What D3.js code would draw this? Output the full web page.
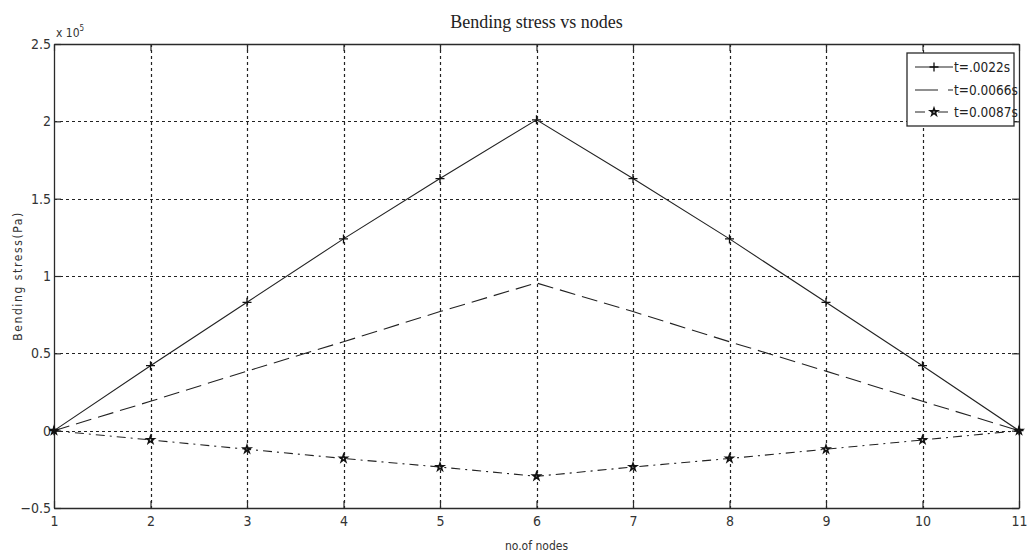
<!DOCTYPE html>
<html>
<head>
<meta charset="utf-8">
<script src="https://cdn.jsdelivr.net/npm/d3@7"></script>
<style>
  html, body { margin: 0; padding: 0; background: #fff; }
  svg { display: block; }
</style>
</head>
<body>
<svg id="chart" width="1028" height="554"></svg>
<script>
// Node numbers along the beam
const nodes = [1, 2, 3, 4, 5, 6, 7, 8, 9, 10, 11];
// Bending stress (Pa) at each node for three time instants
const stressT0022 = [0, 42000, 83000, 124000, 163000, 201000, 163000, 124000, 83000, 42000, 0];
const stressT0066 = [0, 19000, 38500, 57500, 77000, 95500, 77000, 57500, 38500, 19000, 0];
const stressT0087 = [0, -6000, -12000, -18000, -23500, -29500, -23500, -18000, -12000, -6000, 0];
const seriesNames = ["t=.0022s", "t=0.0066s", "t=0.0087s"];
const yTicks = [-50000, 0, 50000, 100000, 150000, 200000, 250000];

const W = 1028, H = 554;
const m = { left: 54, right: 9, top: 44, bottom: 46 };
const svg = d3.select("#chart");
const narrow = '"Liberation Sans Narrow", "DejaVu Sans Condensed", "Liberation Sans", sans-serif';

const x = d3.scaleLinear().domain([1, 11]).range([m.left, W - m.right]);
const y = d3.scaleLinear().domain([-50000, 250000]).range([H - m.bottom, m.top]);

const ink = "#2a2a2a";

// grid
const grid = svg.append("g").attr("stroke", "#222").attr("stroke-width", 1.2)
  .attr("stroke-dasharray", "3,3");
grid.selectAll("line.v").data(nodes.slice(1, -1)).join("line")
  .attr("x1", d => Math.round(x(d)) + 0.5).attr("x2", d => Math.round(x(d)) + 0.5)
  .attr("y1", y(250000)).attr("y2", y(-50000));
grid.selectAll("line.h").data(yTicks.slice(1, -1)).join("line")
  .attr("y1", d => Math.round(y(d)) + 0.5).attr("y2", d => Math.round(y(d)) + 0.5)
  .attr("x1", x(1)).attr("x2", x(11));

// axes (inward ticks on all four sides, boxed plot)
const tickLen = 7;
const axB = d3.axisBottom(x).tickValues(nodes).tickSize(tickLen).tickSizeOuter(0).tickFormat(d3.format("d"));
const axL = d3.axisLeft(y).tickValues(yTicks).tickSize(tickLen).tickSizeOuter(0)
  .tickFormat(d => d3.format("~g")(d / 1e5));

const gB = svg.append("g").attr("transform", `translate(0,${y(-50000)})`).call(axB);
gB.selectAll(".tick line").attr("y2", -tickLen);
gB.selectAll(".tick text").attr("y", 8).attr("dy", "0.71em");
const gT = svg.append("g").attr("transform", `translate(0,${y(250000)})`)
  .call(d3.axisTop(x).tickValues(nodes).tickSize(tickLen).tickSizeOuter(0).tickFormat(""));
gT.selectAll(".tick line").attr("y2", tickLen);
const gL = svg.append("g").attr("transform", `translate(${x(1)},0)`).call(axL);
gL.selectAll(".tick line").attr("x2", tickLen);
gL.selectAll(".tick text").attr("x", -3);
const gR = svg.append("g").attr("transform", `translate(${x(11)},0)`)
  .call(d3.axisRight(y).tickValues(yTicks).tickSize(tickLen).tickSizeOuter(0).tickFormat(""));
gR.selectAll(".tick line").attr("x2", -tickLen);

[gB, gT, gL, gR].forEach(g => {
  g.select(".domain").attr("stroke", ink).attr("stroke-width", 1.3);
  g.selectAll(".tick line").attr("stroke", ink).attr("stroke-width", 1.2);
  g.selectAll(".tick text").attr("font-family", narrow).attr("font-size", 14).attr("fill", "#333");
});

// exponent label
const expo = svg.append("text").attr("x", x(1) + 2).attr("y", y(250000) - 7)
  .attr("font-family", narrow).attr("font-size", 12).attr("fill", "#333");
expo.append("tspan").text("x 10");
expo.append("tspan").attr("font-size", 8).attr("dy", -6).text("5");

// title
svg.append("text").attr("x", (x(1) + x(11)) / 2).attr("y", 28).attr("text-anchor", "middle")
  .attr("font-family", '"Liberation Serif", "DejaVu Serif", serif').attr("font-size", 18).attr("fill", "#222")
  .text("Bending stress vs nodes");

// axis labels
svg.append("text").attr("x", (x(1) + x(11)) / 2).attr("y", 550).attr("text-anchor", "middle")
  .attr("font-family", narrow).attr("font-size", 12).attr("fill", "#333").text("no.of nodes");
svg.append("text").attr("transform", "translate(22,276) rotate(-90)").attr("text-anchor", "middle")
  .attr("font-family", narrow).attr("font-size", 12).attr("letter-spacing", 1.6).attr("fill", "#333")
  .text("Bending stress(Pa)");

// series
const lineGen = d3.line().x((d, i) => x(nodes[i])).y(d => y(d));
const series = [
  { name: seriesNames[0], values: stressT0022, dash: null, marker: "plus" },
  { name: seriesNames[1], values: stressT0066, dash: "16,7", marker: null },
  { name: seriesNames[2], values: stressT0087, dash: "9,5,2,5", marker: "star" }
];

const plusPath = s => `M${-s},0H${s}M0,${-s}V${s}`;
const starPath = d3.symbol().type(d3.symbolStar).size(16)();

function drawMarker(g, type) {
  if (type === "plus") {
    g.append("path").attr("d", plusPath(4.5)).attr("stroke", "#111").attr("stroke-width", 1.3).attr("fill", "none");
  } else if (type === "star") {
    g.append("path").attr("d", starPath).attr("stroke", "#111").attr("stroke-width", 1.6).attr("fill", "none");
  }
}

series.forEach(s => {
  svg.append("path").datum(s.values).attr("d", lineGen)
    .attr("fill", "none").attr("stroke", "#222").attr("stroke-width", 1.1)
    .attr("stroke-dasharray", s.dash);
  if (s.marker) {
    s.values.forEach((v, i) => {
      const g = svg.append("g").attr("transform", `translate(${x(nodes[i])},${y(v)})`);
      drawMarker(g, s.marker);
    });
  }
});

// legend
const lg = svg.append("g").attr("transform", "translate(907,53)");
lg.append("rect").attr("width", 107).attr("height", 73).attr("fill", "#fff")
  .attr("stroke", ink).attr("stroke-width", 1.3);
const rowsY = [14, 37, 59];
series.forEach((s, i) => {
  const ry = rowsY[i];
  lg.append("line").attr("x1", 8).attr("x2", 46).attr("y1", ry).attr("y2", ry)
    .attr("stroke", "#222").attr("stroke-width", 1.1)
    .attr("stroke-dasharray", i === 1 ? "23,10,6,10" : i === 2 ? "10,6,2,5,10" : null);
  if (s.marker) {
    const g = lg.append("g").attr("transform", `translate(27,${ry})`);
    drawMarker(g, s.marker);
  }
  lg.append("text").attr("x", 47).attr("y", ry).attr("dy", "0.36em")
    .attr("font-family", narrow).attr("font-size", 13.5).attr("fill", "#222").text(s.name);
});
</script>
</body>
</html>
